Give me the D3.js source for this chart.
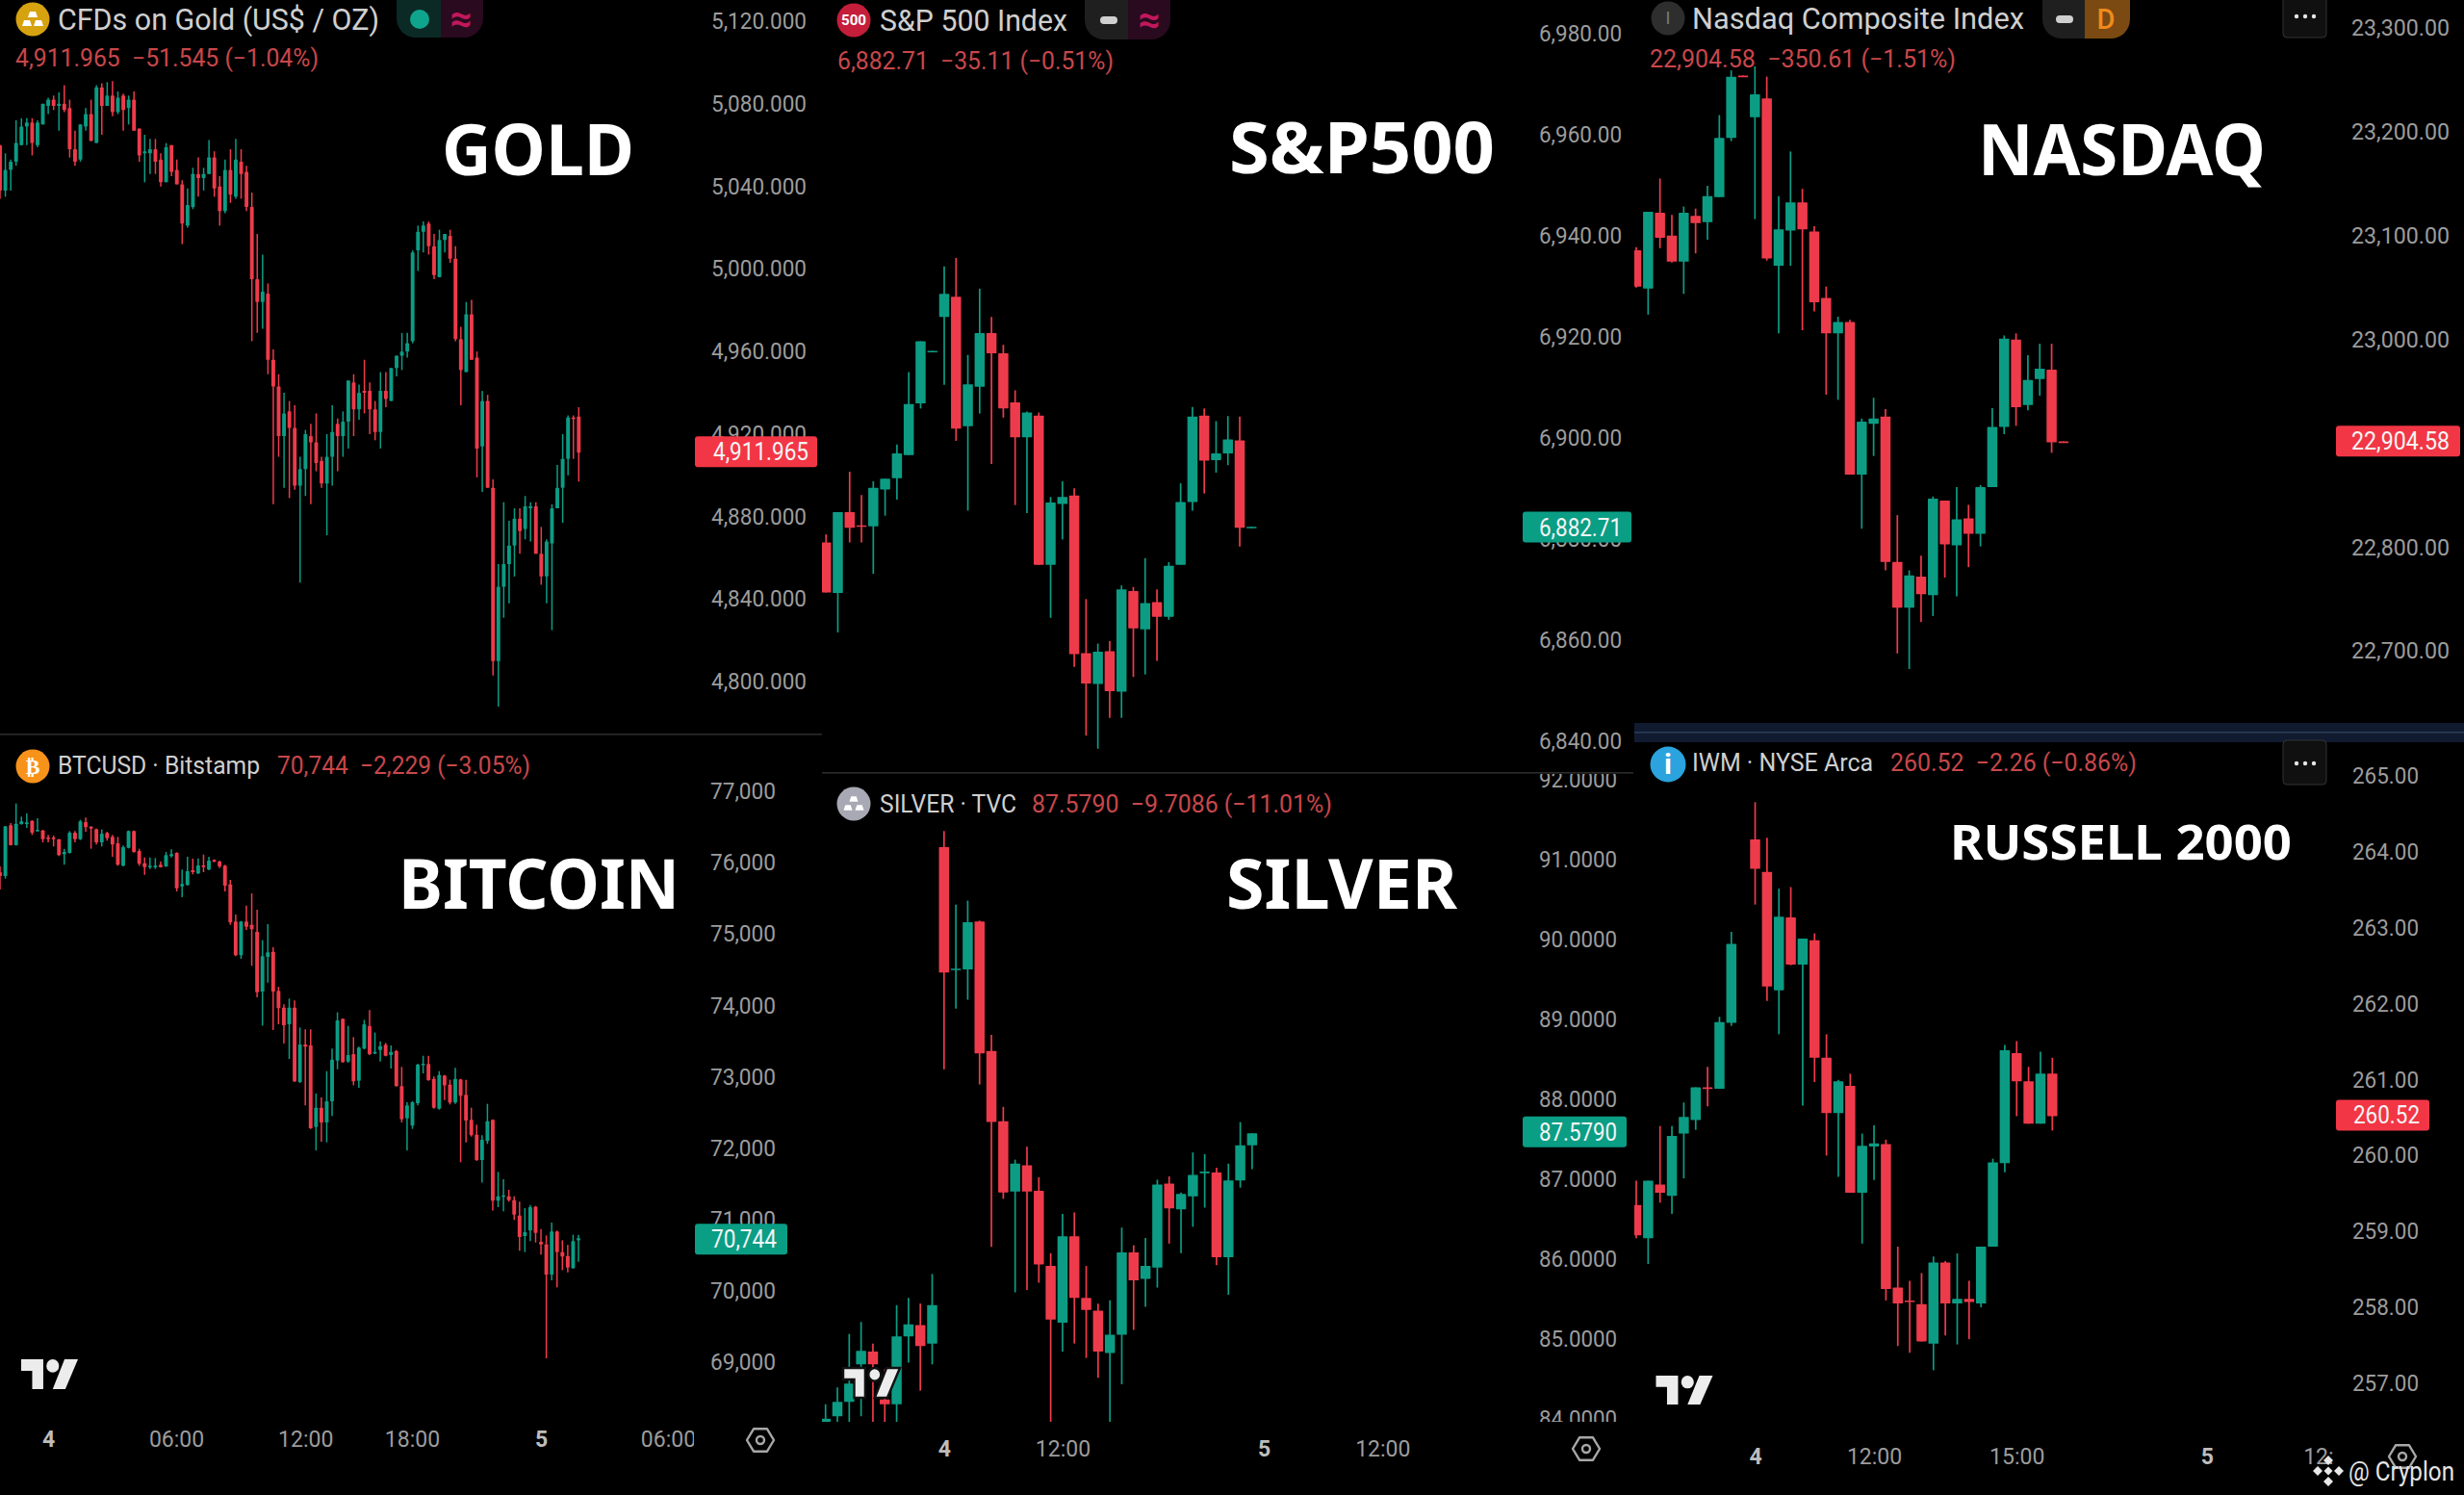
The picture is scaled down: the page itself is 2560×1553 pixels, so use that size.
<!DOCTYPE html>
<html><head><meta charset="utf-8">
<script src="https://cdn.jsdelivr.net/npm/d3@7/dist/d3.min.js"></script>
<style>html,body{margin:0;background:#000}svg{display:block}text{font-family:Roboto,sans-serif;white-space:pre}</style>
</head><body><div id="c"></div>
<script>
// [open, high, low, close]
const goldCandles=[[5060,5060,5034,5038],[5038,5056,5035,5048],[5048,5053,5038,5052],[5052,5072,5050,5061],[5060,5073,5060,5069],[5069,5073,5060,5071],[5071,5073,5055,5061],[5060,5072,5059,5071],[5070,5080,5070,5080],[5079,5083,5075,5082],[5082,5084,5077,5079],[5079,5085.5,5067,5080],[5080,5089,5076,5077],[5078,5082,5054,5058],[5058,5067,5050,5052],[5053,5070,5052,5070],[5069,5078,5067,5075],[5075,5082,5062,5062],[5061,5089,5061,5088],[5088,5090,5065,5079],[5079,5090.5,5079,5084],[5084,5091,5074,5076],[5076,5086,5075,5083],[5084,5085,5067,5077],[5078,5084,5070,5082],[5082,5086,5067,5067],[5068,5068,5052,5055],[5056,5065,5042,5057],[5056,5063,5046,5058],[5058,5063,5046,5052],[5053,5056,5040,5042],[5042,5061,5042,5059],[5060,5060,5045,5047],[5048,5053,5041,5041],[5041,5043,5012,5022],[5021,5039,5020,5031],[5030,5049,5029,5046],[5046,5054,5035,5044],[5044,5049,5038,5046],[5046,5062.5,5046,5054],[5054,5057,5035,5039],[5040,5045,5021,5028],[5028,5053,5027,5048],[5048,5058,5032,5036],[5035,5063,5034,5053],[5052,5058,5034,5046],[5047,5050,5028,5030],[5030,5037,4965,4995],[4995,5017,4969,4984],[4984,5007,4971,4989],[4988,4993,4949,4956],[4956,4961,4886,4943],[4943,4949,4909,4919],[4919,4940,4894,4930],[4931,4936,4889,4923],[4923,4934,4893,4895],[4895,4909,4848,4903],[4903,4922,4890,4920],[4919,4925,4886,4916],[4916,4930,4902,4906],[4907,4909,4894,4896],[4896,4920,4871,4909],[4909,4934,4895,4921],[4925,4927.5,4902,4919],[4919,4931,4909,4926],[4926,4946,4913,4946],[4945,4949,4919,4932],[4932,4944,4927,4940],[4941,4956,4930,4940],[4941,4945,4920,4932],[4932,4936,4917,4921],[4921,4950,4913,4941],[4941,4950,4933,4937],[4936,4952,4936,4952],[4952,4958,4948,4958],[4958,4969,4951,4960],[4960,4969,4957,4964],[4965,5009,4964,5008],[5009,5021,4999,5018],[5018,5023,5008,5021],[5022,5023,5007,5011],[5011,5017,4995,4997],[4996,5019,4996,5014],[5014,5017,5008,5017],[5016,5019,5003,5005],[5005,5011,4965,4966],[4966,4972,4934,4951],[4950,4984,4950,4978],[4978,4985,4956,4956],[4957,4960,4899,4913],[4914,4941,4892,4936],[4936,4939,4894,4894],[4894,4898,4803,4810],[4810,4857,4788,4846],[4846,4887,4831,4857],[4857,4878,4838,4866],[4866,4884,4851,4879],[4879,4884,4862,4873],[4874,4890,4869,4885],[4884,4887,4868,4885],[4885,4887,4862,4862],[4862,4875,4847,4851],[4851,4869,4838,4868],[4867,4886,4825,4884],[4884,4905,4884,4894],[4894,4920,4877,4908],[4908,4929,4900,4928],[4928,4929,4908,4927.5],[4928.5,4933,4897,4911]];
const goldTicks=[5120,5080,5040,5000,4960,4920,4880,4840,4800];

const spxCandles=[[6879.3,6880.9,6869.4,6869.4],[6869.3,6885.3,6861.5,6885.3],[6885.3,6893.3,6879.3,6882.2],[6882.7,6888.7,6879.3,6882.4],[6882.5,6891.4,6873.1,6890.1],[6889.8,6891.9,6884.6,6891.9],[6892,6898.7,6887.8,6896.9],[6896.6,6913,6896.6,6906.7],[6906.8,6919.1,6905.8,6919.1],[6916.9,6917.2,6916.9,6917.2],[6923.9,6933.9,6910.5,6928.5],[6927.9,6935.6,6899.4,6901.8],[6902.3,6916.4,6885.6,6910.6],[6910.1,6929.5,6904.8,6920.7],[6920.7,6923.9,6894.8,6916.7],[6916.7,6918.4,6904,6905.8],[6907,6909.4,6886.7,6900.1],[6900.1,6905.2,6885.1,6905],[6904.4,6905,6874.9,6874.9],[6874.9,6888.3,6864.4,6887.2],[6886.9,6891.4,6879.9,6888.3],[6888.6,6890,6854.7,6857.2],[6857.4,6868.1,6841.1,6851.4],[6851.3,6859.3,6838.5,6857.7],[6857.8,6859.8,6844.6,6849.9],[6849.8,6870.8,6844.6,6870],[6869.7,6870.5,6852.7,6862.3],[6862.1,6876.2,6853.2,6867.3],[6867.5,6870,6855.9,6864.6],[6864.6,6875.4,6864,6874.7],[6874.9,6891,6874.9,6887.3],[6887.3,6906.1,6885.6,6904.2],[6904.4,6905.8,6889,6895.5],[6895.6,6903.3,6893.1,6896.9],[6896.9,6904.3,6894.6,6899.7],[6899.5,6904.2,6878.5,6882.2],[6882.1,6882.4,6882.1,6882.4]];
const spxTicks=[6980,6960,6940,6920,6900,6880,6860,6840];

const ndxCandles=[[23086,23089,23050,23051],[23049,23123,23024,23123],[23122,23155,23088,23098],[23100,23120,23074,23075],[23075,23128,23044,23122],[23119,23126,23083,23112],[23113,23148,23096,23138],[23137,23216,23137,23194],[23194,23259,23191,23253],[23254,23254,23253,23253],[23214,23263,23116,23236],[23232,23253,23076,23078],[23071,23138,23006,23106],[23105,23181,23071,23132],[23132,23145,23009,23106],[23104,23109,23027,23036],[23040,23051,22947,23006],[23006,23022,22942,23017],[23017,23019,22870,22870],[22870,22924,22818,22921],[22919,22944,22888,22924],[22926,22933,22778,22786],[22786,22831,22698,22742],[22742,22778,22683,22773],[22772,22792,22728,22755],[22754,22849,22734,22847],[22845,22845,22771,22803],[22802,22858,22753,22827],[22828,22841,22781,22813],[22813,22860,22801,22858],[22858,22934,22858,22916],[22916,23004,22909,23001],[23000,23006,22917,22935],[22937,22985,22932,22961],[22962,22996,22946,22972],[22971,22996,22891,22901],[22902,22902,22901,22901]];
const ndxTicks=[23300,23200,23100,23000,22800,22700];

const btcCandles=[[75870,75951,75627,75816],[75816,76513,75780,76513],[76526,76558,76243,76248],[76248,76832,76243,76549],[76544,76648,76535,76580],[76544,76693,76490,76567],[76589,76598,76391,76423],[76454,76625,76445,76463],[76454,76463,76288,76333],[76355,76391,76288,76333],[76355,76382,76230,76333],[76333,76333,76095,76108],[76122,76198,75973,76153],[76140,76445,76131,76423],[76423,76445,76288,76333],[76333,76603,76320,76580],[76571,76634,76436,76499],[76508,76513,76198,76481],[76472,76481,76257,76288],[76288,76468,76230,76409],[76418,76436,76311,76346],[76364,76391,76086,76257],[76275,76364,75960,75973],[75960,76243,75951,76221],[76212,76454,76203,76445],[76445,76454,76144,76153],[76167,76198,75960,75987],[75996,76077,75834,75942],[75942,76077,75915,75960],[75942,76068,75915,75960],[75973,76018,75933,75942],[75951,76153,75942,76108],[76095,76189,76077,76122],[76140,76149,75600,75645],[75672,75906,75520,75704],[75690,76086,75681,75884],[75897,76059,75839,75870],[75852,76063,75843,75964],[75964,76117,75870,75942],[75906,76086,75897,76032],[76041,76050,76009,76018],[76018,76032,75929,75951],[75960,75973,75600,75681],[75699,75762,75133,75169],[75178,75277,74692,74706],[74706,75187,74656,75178],[75178,75403,75061,75106],[75133,75573,74558,75070],[75034,75344,74117,74189],[74198,74917,73721,74692],[74683,75142,74324,74746],[74755,74818,73659,74198],[74207,74265,73739,73964],[73973,74018,73470,73726],[73739,74099,73254,73973],[73973,74072,72930,72939],[72930,73694,72917,73456],[73456,73668,72602,73425],[73443,73668,72274,72283],[72301,72769,71973,72571],[72571,72715,72094,72364],[72364,73083,72085,72661],[72661,73398,72454,73245],[73232,73906,73110,73793],[73816,73816,73200,73209],[73218,73717,73200,73308],[73321,73560,72885,72939],[72948,73425,72849,73411],[73398,73802,73389,73739],[73717,73937,73308,73321],[73330,73623,73321,73353],[73380,73501,73218,73434],[73452,73479,73290,73299],[73308,73443,73119,73353],[73366,73380,72867,72872],[72872,73142,72364,72409],[72422,72647,71973,72602],[72319,72661,72274,72647],[72634,73187,72602,73173],[73173,73299,73052,73187],[73182,73299,72948,72957],[72975,73007,72557,72571],[72557,73083,72544,73029],[73020,73029,72679,72885],[72894,72962,72616,72643],[72643,73128,72625,72975],[72966,72975,71807,72737],[72751,72962,72085,72391],[72400,72571,72166,72184],[72193,72333,71825,71838],[71838,72184,71523,72121],[72103,72625,72063,72382],[72400,72409,71132,71267],[71267,71672,71177,71330],[71330,71568,71119,71344],[71330,71420,71254,71276],[71276,71330,70998,71074],[71060,71254,70566,70759],[70773,71164,70548,70827],[70849,71209,70701,71177],[71186,71195,70683,70818],[70692,70872,70512,70656],[70656,70782,69060,70233],[70233,70962,70152,70836],[70836,70849,70054,70548],[70548,70714,70296,70485],[70494,70647,70265,70332],[70323,70791,70318,70701],[70714,70791,70413,70744]];
const btcTicks=[77000,76000,75000,74000,73000,72000,71000,70000,69000];
const btcTimeAt=[9,32.9,57,76.9,101,124.7];
const btcTimeLabels=["4","06:00","12:00","18:00","5","06:00"];

const silverCandles=[[83.95,84.19,83.9,84.01],[84.04,84.40,83.9,84.22],[84.22,85.07,83.9,84.45],[84.69,85.22,84.04,84.86],[84.85,84.95,83.9,84.69],[84.25,84.63,83.9,84.19],[84.19,85.43,83.9,85.04],[85.04,85.52,84.71,85.19],[85.18,85.45,84.36,84.92],[84.95,85.82,84.69,85.43],[91.16,91.36,88.38,89.59],[89.63,90.44,89.14,89.64],[89.63,90.49,89.25,90.22],[90.23,90.24,88.19,88.58],[88.61,88.81,86.16,87.72],[87.73,87.91,86.76,86.84],[86.85,87.25,85.59,87.20],[87.18,87.41,85.62,86.85],[86.86,87.03,85.71,85.94],[85.92,86.08,83.9,85.25],[85.21,86.57,84.85,86.29],[86.29,86.59,84.95,85.52],[85.52,85.92,84.77,85.37],[85.36,85.45,84.52,84.85],[84.83,85.49,83.9,85.06],[85.06,86.40,84.44,86.09],[86.09,86.18,85.12,85.74],[85.76,86.27,85.41,85.92],[85.90,87.0,85.65,86.94],[86.95,87.04,86.20,86.64],[86.63,86.84,86.08,86.82],[86.79,87.34,86.41,87.06],[87.09,87.32,86.65,87.10],[87.09,87.15,85.93,86.03],[86.03,87.20,85.56,86.99],[86.99,87.72,86.90,87.43],[87.43,87.58,87.13,87.58]];
const silverTicks=[92,91,90,89,88,87,86,85,84];
const silverTimeAt=[10,20,37,47];
const silverTimeLabels=["4","12:00","5","12:00"];

const iwmCandles=[[259.35,259.67,258.91,258.95],[258.91,259.67,258.57,259.67],[259.62,260.39,259.38,259.51],[259.47,260.39,259.23,260.26],[260.29,260.70,259.70,260.51],[260.47,260.90,260.34,260.90],[260.90,261.17,260.65,260.89],[260.88,261.83,260.88,261.76],[261.75,262.95,261.71,262.79],null,[264.17,264.66,263.31,263.78],[263.74,264.19,262.04,262.23],[262.18,263.52,261.60,263.15],[263.14,263.54,262.51,262.52],[262.52,262.86,260.66,262.86],[262.84,262.93,260.97,261.29],[261.29,261.60,260.0,260.56],[260.56,261.0,259.72,260.98],[260.92,261.08,259.51,259.51],[259.51,260.29,258.84,260.13],[260.12,260.40,259.68,260.16],[260.15,260.21,258.09,258.24],[258.26,258.80,257.49,258.05],[258.09,258.35,257.40,258.07],[258.04,258.45,257.55,257.55],[257.52,258.67,257.17,258.59],[258.59,258.61,257.63,258.05],[258.05,258.71,257.51,258.11],[258.11,258.35,257.58,258.07],[258.05,258.80,258.0,258.80],[258.80,259.96,258.80,259.91],[259.90,261.46,259.78,261.39],[261.35,261.51,260.52,260.98],[260.98,261.17,260.42,260.42],[260.42,261.37,260.42,261.08],[261.08,261.29,260.33,260.52]];
const iwmTicks=[265,264,263,262,261,260,259,258,257];
const iwmTimeAt=[10,20,32,48,58.4];
const iwmTimeLabels=["4","12:00","15:00","5","12:00"];

const UP="#0c9c84",DOWN="#ee3b4b",TICK="#9c9c9c",HEAD="#cfcfcf",SUB="#c8474b";
const svg=d3.select("#c").append("svg").attr("width",2560).attr("height",1553).attr("viewBox","0 0 2560 1553");
svg.append("rect").attr("width",2560).attr("height",1553).attr("fill","#000");
const defs=svg.append("defs");
let clipN=0;
function clip(x,y,w,h){const id="c"+(clipN++);defs.append("clipPath").attr("id",id).append("rect").attr("x",x).attr("y",y).attr("width",w).attr("height",h);return `url(#${id})`;}

function T(x,y,s,size,width,fill,o={}){
  const t=svg.append("text").attr("x",x).attr("y",y).attr("dy",".36em").attr("font-size",size).attr("fill",fill).text(s);
  if(width)t.attr("textLength",width).attr("lengthAdjust","spacingAndGlyphs");
  if(o.weight)t.attr("font-weight",o.weight);
  if(o.family)t.style("font-family",o.family);
  if(o.anchor)t.attr("text-anchor",o.anchor);
  return t;
}

function panel(c){
  const x=d3.scaleLinear().domain([0,c.data.length-1]).range(c.xr);
  const y=d3.scaleLinear().domain(c.yd).range(c.yr);
  const rows=c.data.map((d,i)=>d&&({i,o:d[0],h:d[1],l:d[2],c:d[3]})).filter(Boolean);
  const g=svg.append("g").attr("clip-path",clip(...c.clip));
  const col=d=>d.c>=d.o?UP:DOWN;
  const cs=g.selectAll("g").data(rows).join("g");
  cs.append("line").attr("x1",d=>x(d.i)).attr("x2",d=>x(d.i)).attr("y1",d=>y(d.h)).attr("y2",d=>y(d.l)).attr("stroke",col).attr("stroke-width",c.wick);
  cs.append("rect").attr("x",d=>x(d.i)-c.body/2).attr("width",c.body)
    .attr("y",d=>y(Math.max(d.o,d.c))).attr("height",d=>Math.max(1.6,Math.abs(y(d.o)-y(d.c)))).attr("fill",col).attr("rx",.6);
  const ax=svg.append("g").attr("clip-path",clip(...c.tickClip)).append("g").attr("transform",`translate(${c.axisX},0)`)
    .call(d3.axisLeft(y).tickValues(c.ticks).tickFormat(d3.format(c.fmt)).tickSize(0).tickPadding(0));
  ax.select(".domain").remove();
  ax.selectAll("text").attr("fill",TICK).attr("font-size",23).style("font-family","Roboto")
    .attr("textLength",c.tickW).attr("lengthAdjust","spacingAndGlyphs");
  if(c.time){
    const tx=svg.append("g").attr("clip-path",clip(...c.time.clip)).append("g").attr("transform",`translate(0,${c.time.y})`)
      .call(d3.axisBottom(x).tickValues(c.time.at).tickFormat((d,i)=>c.time.labels[i]).tickSize(0).tickPadding(0));
    tx.select(".domain").remove();
    tx.selectAll("text").attr("fill",(d,i)=>c.time.labels[i].length==1?"#bdbdbd":TICK).attr("font-size",23).attr("font-weight",(d,i)=>c.time.labels[i].length==1?700:400)
      .style("font-family","Roboto").attr("dy",".36em");
  }
  // last price tag
  const ly=y(c.last)+c.lastDy;
  svg.append("rect").attr("x",c.tag[0]).attr("width",c.tag[1]-c.tag[0]).attr("y",ly-16).attr("height",32).attr("rx",3)
    .attr("fill",c.lastUp?"#0a9e85":"#f23645");
  svg.append("text").attr("x",c.tagText).attr("y",ly).attr("dy",".36em").attr("text-anchor","end").attr("font-size",25).attr("fill","#f4f4f4")
    .attr("textLength",c.tickWLast||c.tickW).attr("lengthAdjust","spacingAndGlyphs").text(d3.format(c.fmtLast||c.fmt)(c.last));
}

panel({data:goldCandles,xr:[0,601.3],yd:[5120,4800],yr:[22.1,708.2],clip:[0,0,722,762],wick:1.5,body:3.9,ticks:goldTicks,fmt:",.3f",axisX:838,tickW:99,tickClip:[722,0,130,762],
  last:4911.965,lastDy:1,lastUp:false,tag:[722,849],tagText:840});
panel({data:spxCandles,xr:[858.2,1300.3],yd:[6980,6840],yr:[34.7,769.9],clip:[854,0,728,800],wick:1.7,body:10.5,ticks:spxTicks,fmt:",.2f",axisX:1685,tickW:86,tickClip:[1590,0,100,800],
  last:6882.71,lastDy:2,lastUp:true,tag:[1582,1695],tagText:1685});
panel({data:ndxCandles,xr:[1700,2143.9],yd:[23300,22700],yr:[28.9,676.6],clip:[1698,0,720,751],wick:1.7,body:10.5,ticks:ndxTicks,fmt:",.2f",axisX:2545,tickW:102,tickClip:[2430,0,130,751],
  last:22904.58,lastDy:2.5,lastUp:false,tag:[2427,2556],tagText:2545});
panel({data:btcCandles,xr:[0,601],yd:[77000,69000],yr:[822.2,1415.5],clip:[0,765,722,700],wick:1.5,body:3.9,ticks:btcTicks,fmt:",d",axisX:806,tickW:68,tickClip:[722,800,130,700],
  last:70744,lastDy:1,lastUp:true,tag:[722,818],tagText:807,
  time:{at:btcTimeAt,labels:btcTimeLabels,y:1495,clip:[0,1470,721,60]}});
panel({data:silverCandles,xr:[857.7,1300.9],yd:[91,85],yr:[893.2,1391.5],clip:[854,805,728,672],wick:1.7,body:10.5,ticks:silverTicks,fmt:".4f",axisX:1680,tickW:81,tickClip:[1590,804,100,673],
  last:87.579,lastDy:-1.5,lastUp:true,tag:[1582,1690],tagText:1680,
  time:{at:silverTimeAt,labels:silverTimeLabels,y:1505,clip:[854,1480,800,60]}});
panel({data:iwmCandles,xr:[1700,2132.3],yd:[265,257],yr:[806.5,1436.8],clip:[1698,772,720,700],wick:1.7,body:10.5,ticks:iwmTicks,fmt:".2f",axisX:2513,tickW:69,tickClip:[2430,772,130,700],
  last:260.52,lastDy:-1,lastUp:false,tag:[2427,2524],tagText:2514,
  time:{at:iwmTimeAt,labels:iwmTimeLabels,y:1513,clip:[1698,1490,727,60]}});

// dividers
svg.append("rect").attr("x",0).attr("y",762).attr("width",854).attr("height",1.6).attr("fill","#2b2b2b");
svg.append("rect").attr("x",854).attr("y",802).attr("width",843).attr("height",1.6).attr("fill","#2b2b2b");
svg.append("rect").attr("x",1698).attr("y",751).attr("width",862).attr("height",20).attr("fill","#101b30");
svg.append("rect").attr("x",1698).attr("y",760).attr("width",862).attr("height",1.6).attr("fill","#2c3b55");

// big titles
const bigF="'Noto Sans'";
[["GOLD",459,155,200,74],["S&P500",1277,153.5,276,74],["NASDAQ",2055,155,299,74],["BITCOIN",414,918,292,72],["SILVER",1274,918,240,72],["RUSSELL 2000",2026,874.5,355,51]]
 .forEach(([s,x,y,w,f])=>T(x,y,s,f,w,"#fff",{weight:700,family:bigF}));

// header helpers
function icon(x,y,r,fill){svg.append("circle").attr("cx",x).attr("cy",y).attr("r",r).attr("fill",fill);}
function pill(x0,x1,mid,y0,y1,lf,rf){
  const g=svg.append("g").attr("clip-path",clip(x0,y0,x1-x0,y1-y0));
  g.append("rect").attr("x",x0).attr("y",y0-20).attr("width",mid-x0+20).attr("height",y1-y0+20).attr("rx",20).attr("fill",lf);
  g.append("rect").attr("x",mid).attr("y",y0-20).attr("width",x1-mid).attr("height",y1-y0+20).attr("rx",20).attr("fill",rf);
  g.append("rect").attr("x",mid).attr("y",y0-20).attr("width",20).attr("height",y1-y0+20).attr("fill",rf);
}
function dash(x,y){svg.append("rect").attr("x",x-9).attr("y",y-4).attr("width",18).attr("height",8).attr("rx",4).attr("fill","#cfcfcf");}
function menuBtn(y0,y1,dy){
  svg.append("rect").attr("x",2372).attr("y",y0).attr("width",45).attr("height",y1-y0).attr("rx",4).attr("fill","#101010").attr("stroke","#333");
  [-9,0,9].forEach(d=>svg.append("circle").attr("cx",2395+d).attr("cy",dy).attr("r",2.2).attr("fill","#e6e6e6"));
}
function bars(x,y,s,c){ // gold-bar glyph
  [[0,-5],[-6,4],[6,4]].forEach(([a,b])=>svg.append("path").attr("d",`M${x+a-5*s},${y+b+3*s} L${x+a-3*s},${y+b-3*s} H${x+a+3*s} L${x+a+5*s},${y+b+3*s} Z`).attr("fill",c));
}

// Gold header
icon(34,20,17.5,"#d6a20f"); bars(34,20,1,"#fff");
T(60,20,"CFDs on Gold (US$ / OZ)",31,334,HEAD);
pill(412,502,458,0,39,"#0b2a25","#2a0a1f");
icon(436,20,10,"#0fa58c");
T(479,19,"≈",40,null,"#c2185b",{anchor:"middle",weight:700});
T(16,60,"4,911.965  −51.545 (−1.04%)",25,315,SUB);

// S&P header
icon(887,21,17.5,"#c41e3a");
T(887,21,"500",14,26,"#fff",{anchor:"middle",weight:700});
T(914,21,"S&P 500 Index",31,195,HEAD);
pill(1127,1216,1172,0,41,"#1f1f1f","#2a0a1f");
dash(1152,21);
T(1194,20,"≈",40,null,"#c2185b",{anchor:"middle",weight:700});
T(870,63,"6,882.71  −35.11 (−0.51%)",25,287,SUB);

// Nasdaq header
icon(1733,19,17.5,"#2e2e2e");
T(1733,19,"I",18,null,"#7a7a7a",{anchor:"middle"});
T(1758,19,"Nasdaq Composite Index",31,345,HEAD);
pill(2122,2213,2166,0,40,"#1f1f1f","#7a4a12");
dash(2145,20);
T(2188,20,"D",29,null,"#f08a1c",{anchor:"middle",weight:500});
T(1714,61,"22,904.58  −350.61 (−1.51%)",25,318,SUB);
menuBtn(-6,39,17);

// BTC header
icon(34,796,17.5,"#f7931a");
T(34,796,"₿",22,null,"#fff",{anchor:"middle",weight:700,family:"'DejaVu Sans'"});
T(60,795,"BTCUSD · Bitstamp",26,210,HEAD);
T(288,795,"70,744  −2,229 (−3.05%)",26,263,SUB);

// Silver header
icon(887,835,17.5,"#a9a9b5"); bars(887,835,.9,"#fff");
T(914,835,"SILVER · TVC",26,142,HEAD);
T(1072,835,"87.5790  −9.7086 (−11.01%)",26,312,SUB);

// IWM header
icon(1733,794,18.5,"#2aa3de");
T(1733,793,"i",30,null,"#fff",{anchor:"middle",weight:700});
T(1758,792,"IWM · NYSE Arca",26,188,HEAD);
T(1964,792,"260.52  −2.26 (−0.86%)",26,256,SUB);
menuBtn(769,815,793);

// TradingView marks
function tv(x,y,w,h,outline){
  const g=svg.append("g").attr("transform",`translate(${x},${y-7*h/18}) scale(${w/36},${h/18})`);
  const pth=g.append("path").attr("d","M14 25H7V14H0V7h14zM28 25h-8L27.5 7H36z").attr("fill","#ececec");
  const cir=g.append("circle").attr("cx",20).attr("cy",11).attr("r",4).attr("fill","#ececec");
  if(outline){pth.attr("stroke","#111").attr("stroke-width",1.5);cir.attr("stroke","#111").attr("stroke-width",1.5);}
}
tv(22,1412,59,31,false);
tv(876,1421,59,31,true);
tv(1720.5,1429,59,30,false);

// settings hexagons
function hex(cx,cy){
  const pts=d3.range(6).map(i=>[cx+14*Math.cos(i*Math.PI/3),cy+13.5*Math.sin(i*Math.PI/3)]);
  svg.append("path").attr("d",d3.line()(pts)+"Z").attr("fill","none").attr("stroke","#a8a8a8").attr("stroke-width",2.4).attr("stroke-linejoin","round");
  svg.append("circle").attr("cx",cx).attr("cy",cy).attr("r",4).attr("fill","none").attr("stroke","#a8a8a8").attr("stroke-width",2.4);
}
hex(790,1496);hex(1648,1505);hex(2496,1513);

// watermark
const wm=svg.append("g").attr("fill","#e8e8e8");
[[0,-11],[-11,0],[11,0],[0,11],[0,0]].forEach(([a,b])=>{
  const s=(a==0&&b==0)?4.5:5;
  wm.append("path").attr("d",`M${2419+a},${1528+b-s} l${s},${s} l${-s},${s} l${-s},${-s} Z`);
});
T(2440,1528,"@ Cryplon",27,110,"#e4e4e4");
</script></body></html>
